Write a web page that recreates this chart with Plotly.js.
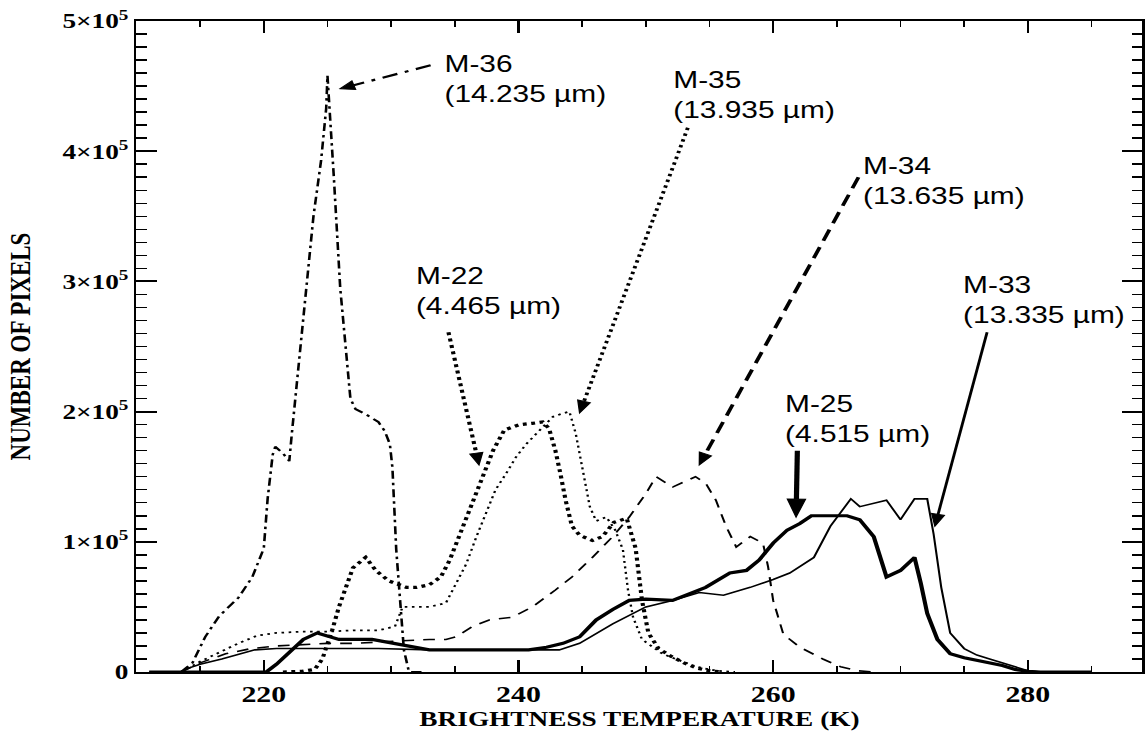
<!DOCTYPE html>
<html>
<head>
<meta charset="utf-8">
<script src="https://cdn.plot.ly/plotly-3.0.1.min.js"></script>
<style>
html,body{margin:0;padding:0;background:#fff;overflow:hidden;width:1145px;height:735px}
#wrap{width:1145px;height:735px;overflow:hidden;position:relative}
#chart{width:881px;height:735px;transform:scaleX(1.2997);transform-origin:0 0;position:absolute;left:0;top:0}
</style>
</head>
<body>
<div id="wrap"><div id="chart"></div></div>
<script>
// ---- data (brightness temperature in K, number of pixels) ----
const m36_T = [213.5,214.4,215.4,216.5,218.0,219.1,220.0,220.3,220.7,220.9,221.5,222.0,222.2,222.6,223.0,223.5,223.9,224.5,224.9,225.0,225.2,225.5,226.0,226.4,226.8,227.2,228.0,229.0,229.5,229.9,230.1,230.4,230.8,231.0,231.4,232.5];
const m36_N = [0,7000,27000,43000,57000,73000,95000,133000,167000,173000,168000,162000,183000,223000,267000,310000,350000,393000,433000,458000,430000,380000,295000,250000,210000,202000,198000,192000,185000,175000,157000,94000,42000,17000,0,0];

const m35_T = [213.5,215.0,216.5,218.0,219.5,221.0,223.0,225.0,227.0,229.0,230.3,230.9,231.5,233.0,234.3,235.1,235.9,236.7,237.5,238.2,239.0,239.8,240.6,241.4,241.9,242.7,243.3,244.0,244.5,245.0,245.6,246.1,246.9,247.6,248.2,248.6,249.0,249.7,251.3,252.6,254.0,255.5,257.0];
const m35_N = [0,8000,15000,22000,28000,30000,31000,31000,32000,32000,35000,50000,50000,50000,53000,68000,83000,104000,124000,140000,152000,165000,175000,183000,188000,196000,198000,200000,183000,158000,127000,116000,119000,109000,94000,63000,42000,25000,14000,9000,4000,1000,0];

const m22_T = [221.5,223.0,224.0,224.6,225.4,225.9,227.0,228.0,228.8,229.8,231.2,232.0,233.0,233.9,234.6,235.4,236.4,237.2,238.0,238.9,240.1,241.1,241.9,242.4,242.9,243.3,243.7,244.2,244.8,245.8,246.6,247.5,248.5,249.2,249.7,250.2,251.0,252.0,253.0,254.0,255.0,256.0];
const m22_N = [0,500,2000,10000,33000,50000,80000,88000,78000,70000,65000,65000,67000,73000,86000,106000,132000,152000,170000,186000,190000,191000,192000,187000,170000,152000,132000,112000,105000,101000,104000,115000,118000,95000,55000,30000,18000,12000,7000,3000,1000,0];

const m34_T = [213.5,215.0,217.0,219.0,221.0,223.0,225.0,227.0,229.0,231.0,233.0,234.3,235.1,236.4,237.7,239.5,241.1,242.9,244.2,245.8,247.4,248.7,250.0,250.8,252.1,253.9,254.7,255.5,256.3,257.1,258.2,259.2,259.6,260.0,260.8,262.1,263.9,265.3,266.6,268.0];
const m34_N = [0,7000,14000,18000,20000,21000,22000,22000,23000,24000,25000,25000,27000,35000,40000,42000,50000,63000,73000,88000,104000,119000,137000,150000,142000,150000,145000,132000,112000,96000,104000,99000,81000,55000,29000,19000,10000,4000,1000,0];

const m25_T = [211.0,219.0,220.2,221.0,222.0,223.1,224.2,225.9,228.5,231.2,233.0,235.6,240.8,242.2,243.5,244.8,246.1,247.4,248.7,250.0,252.1,254.7,256.6,257.9,258.9,260.0,261.1,262.1,263.0,265.8,266.8,267.9,268.9,270.0,271.1,271.6,272.1,272.9,273.9,275.0,276.0,277.0,278.0,279.0,280.0,281.0,285.0];
const m25_N = [0,0,0,6000,15000,25000,30000,25000,25000,20000,17000,17000,17000,19000,22000,27000,40000,48000,55000,56000,55000,65000,76000,78000,86000,99000,109000,114000,120000,120000,117000,104000,73000,78000,88000,68000,45000,25000,14000,11000,9000,7000,5000,2000,500,0,0];

const m33_T = [211.0,213.5,214.1,215.0,216.7,219.3,221.0,225.0,229.0,233.0,237.0,241.0,243.2,244.8,247.4,250.0,252.1,254.2,256.1,258.2,260.0,261.3,263.2,264.5,266.1,266.8,268.9,270.0,271.1,272.1,272.6,273.2,273.9,275.0,276.0,277.0,278.0,279.0,280.0,281.0,285.0];
const m33_N = [0,0,3000,6000,10000,17000,18000,18000,18000,17000,17000,17000,17000,22000,37000,50000,55000,61000,59000,65000,71000,76000,88000,112000,133000,127000,132000,117000,133000,133000,106000,65000,30000,18000,13000,10000,7000,3500,1000,0,0];

const yTickVals = [0,100000,200000,300000,400000,500000];
const yTickText = ['0','1×10<sup>5</sup>','2×10<sup>5</sup>','3×10<sup>5</sup>','4×10<sup>5</sup>','5×10<sup>5</sup>'];
const xTickVals = [220,240,260,280];

const labelNames = ['M-36','M-35','M-34','M-22','M-33','M-25'];
const labelWaves = ['(14.235 µm)','(13.935 µm)','(13.635 µm)','(4.465 µm)','(13.335 µm)','(4.515 µm)'];

// ---- layout geometry ----
const X_RANGE = [210, 289];
const Y_RANGE = [0, 500000];
const W = 881, H = 735, ML = 105, MR = 2, MT = 21, MB = 63;
const pxPerX = (W - ML - MR) / (X_RANGE[1] - X_RANGE[0]);
const pxPerY = (H - MT - MB) / (Y_RANGE[1] - Y_RANGE[0]);

const labelPos = [[234.0,455500],[252.0,443000],[266.9,377500],[231.7,292500],[274.7,286000],[260.7,194000]];
const arrowTail = [[233.1,466000],[253.3,418000],[266.7,380000],[234.5,261000],[276.8,261000],[261.9,170000]];
const arrowTip  = [[226.0,448000],[244.8,199000],[254.2,159000],[236.9,159000],[272.7,112000],[261.8,119000]];
const arrowDash = ['12px,6px,3px,6px','2.5px,3.5px','12px,7px','3px,3.5px','solid','solid'];
const arrowW    = [2.2,3,3,3.2,2.2,4];
const headLen   = [11,12,12,12,12,18];
const headHalf  = [4.5,5,5,5,5,7];

const BLK = '#000';
function tr(T, N, dash, width){
  return {x:T, y:N, type:'scatter', mode:'lines', line:{color:BLK, width:width, dash:dash}, hoverinfo:'skip', showlegend:false};
}
const traces = [
  tr(m33_T, m33_N, 'solid', 1.6),
  tr(m25_T, m25_N, 'solid', 3.2),
  tr(m34_T, m34_N, '9px,7px', 1.6),
  tr(m35_T, m35_N, '2px,3.5px', 1.8),
  tr(m22_T, m22_N, '3px,3.5px', 3.2),
  tr(m36_T, m36_N, '8px,4px,2.5px,4px', 2.0)
];

const shapes = [], annotations = [];
for (let i = 0; i < labelNames.length; i++){
  annotations.push({
    x: labelPos[i][0], y: labelPos[i][1], xref:'x', yref:'y',
    xanchor:'left', yanchor:'middle', align:'left', showarrow:false,
    text: labelNames[i] + '<br>' + labelWaves[i],
    font:{family:'Liberation Sans, Arial, sans-serif', size:23, color:BLK}
  });
  const tl = arrowTail[i], tp = arrowTip[i];
  const dxp = (tp[0]-tl[0])*pxPerX, dyp = (tp[1]-tl[1])*pxPerY;
  const L = Math.sqrt(dxp*dxp + dyp*dyp);
  const ux = dxp/L, uy = dyp/L;
  const nx = -uy, ny = ux;
  const bx = -ux*headLen[i], by = -uy*headLen[i];
  const base = [tp[0] + bx/pxPerX, tp[1] + by/pxPerY];
  const p1 = [tp[0] + (bx + nx*headHalf[i])/pxPerX, tp[1] + (by + ny*headHalf[i])/pxPerY];
  const p2 = [tp[0] + (bx - nx*headHalf[i])/pxPerX, tp[1] + (by - ny*headHalf[i])/pxPerY];
  shapes.push({type:'line', xref:'x', yref:'y', x0:tl[0], y0:tl[1], x1:base[0], y1:base[1],
    line:{color:BLK, width:arrowW[i], dash:arrowDash[i]}});
  shapes.push({type:'path', xref:'x', yref:'y',
    path:'M' + tp[0] + ',' + tp[1] + ' L' + p1[0] + ',' + p1[1] + ' L' + p2[0] + ',' + p2[1] + ' Z',
    fillcolor:BLK, line:{color:BLK, width:1}});
}

const serif = 'Liberation Serif, Times New Roman, serif';
const layout = {
  width:W, height:H,
  margin:{l:ML, r:MR, t:MT, b:MB, pad:0},
  paper_bgcolor:'#fff', plot_bgcolor:'#fff',
  showlegend:false, hovermode:false,
  xaxis:{
    range:X_RANGE, tickmode:'array', tickvals:xTickVals,
    ticks:'inside', ticklen:12, tickwidth:1.6, tickcolor:BLK,
    minor:{tickmode:'linear', tick0:210, dtick:5, ticks:'inside', ticklen:6, tickwidth:1.4, tickcolor:BLK, showgrid:false},
    showline:true, linewidth:2, linecolor:BLK, mirror:'ticks',
    showgrid:false, zeroline:false,
    tickfont:{family:serif, size:23, color:BLK, weight:'bold'},
    title:{text:'BRIGHTNESS TEMPERATURE (K)', standoff:4,
      font:{family:serif, size:21, color:BLK, weight:'bold'}},
    automargin:false
  },
  yaxis:{
    range:Y_RANGE, tickmode:'array', tickvals:yTickVals, ticktext:yTickText,
    ticks:'inside', ticklen:16, tickwidth:2, tickcolor:BLK,
    minor:{tickmode:'linear', tick0:0, dtick:10000, ticks:'inside', ticklen:8, tickwidth:1.5, tickcolor:BLK, showgrid:false},
    showline:true, linewidth:2, linecolor:BLK, mirror:'ticks',
    showgrid:false, zeroline:false,
    tickfont:{family:serif, size:21, color:BLK, weight:'bold'},
    title:{text:'NUMBER OF PIXELS', standoff:18,
      font:{family:serif, size:23, color:BLK, weight:'bold'}},
    automargin:false
  },
  shapes:shapes,
  annotations:annotations
};

Plotly.newPlot('chart', traces, layout, {displayModeBar:false, staticPlot:true});
</script>
</body>
</html>
